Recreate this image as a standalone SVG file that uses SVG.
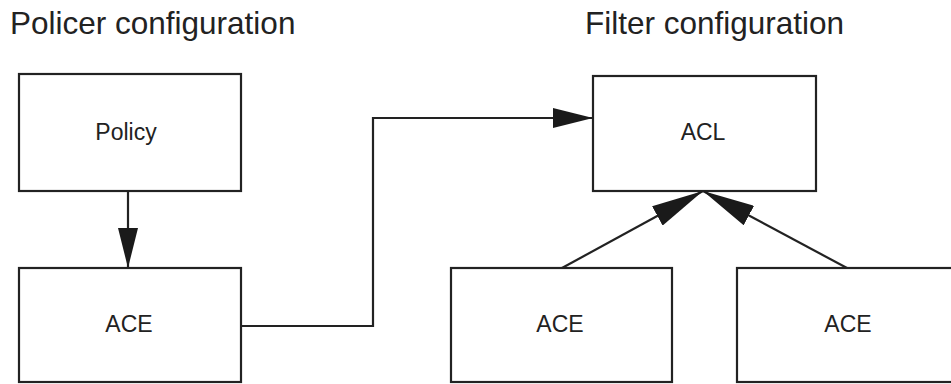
<svg xmlns="http://www.w3.org/2000/svg" width="951" height="384" viewBox="0 0 951 384">
<defs>
<style>
.box{fill:#fff;stroke:#222;stroke-width:2.2}
.lbl{font-family:"Liberation Sans",Arial,sans-serif;font-size:23px;fill:#222;text-anchor:middle}
.ttl{font-family:"Liberation Sans",Arial,sans-serif;font-size:31.5px;fill:#222}
.con{fill:none;stroke:#222;stroke-width:2.2}
</style>
<marker id="ah" viewBox="0 0 40 20" refX="40" refY="10" markerWidth="40" markerHeight="20" markerUnits="userSpaceOnUse" orient="auto">
<path d="M0,0 L40,10 L0,20 Z" fill="#1a1a1a"/>
</marker>
<marker id="ah2" viewBox="0 0 52 22" refX="52" refY="11" markerWidth="52" markerHeight="22" markerUnits="userSpaceOnUse" orient="auto">
<path d="M0,0 L52,11 L0,22 Z" fill="#1a1a1a"/>
</marker>
</defs>
<text class="ttl" x="10" y="34">Policer configuration</text>
<text class="ttl" x="585" y="34">Filter configuration</text>
<g id="policy"><rect class="box" x="19" y="74" width="222" height="117"/><text class="lbl" x="126" y="140">Policy</text></g>
<g id="ace1"><rect class="box" x="19" y="268" width="222" height="114"/><text class="lbl" x="129" y="332">ACE</text></g>
<g id="acl"><rect class="box" x="593" y="76" width="223" height="115"/><text class="lbl" x="703" y="140">ACL</text></g>
<g id="ace2"><rect class="box" x="451" y="268" width="221" height="114"/><text class="lbl" x="560" y="332">ACE</text></g>
<g id="ace3"><rect class="box" x="737" y="268" width="230" height="114"/><text class="lbl" x="848" y="332">ACE</text></g>
<g id="connectors">
<path class="con" d="M128,191 V268" marker-end="url(#ah)"/>
<path class="con" d="M241,326 H373 V118 H593" marker-end="url(#ah)"/>
<path class="con" d="M562,268 L703,191" marker-end="url(#ah2)"/>
<path class="con" d="M847,268 L703,191" marker-end="url(#ah2)"/>
</g>
</svg>
